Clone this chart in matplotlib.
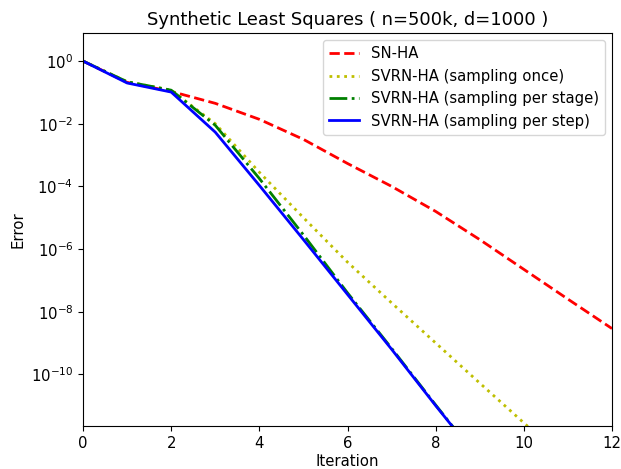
import numpy as np
import matplotlib
matplotlib.use('Agg')
from matplotlib import pyplot as plt

## error per iteration (log10 of error)
iters_sn = [0, 1, 2, 3, 4, 5, 6, 7, 8, 9, 10, 11, 12]
log_sn = [0, -0.68, -0.97, -1.35, -1.86, -2.5, -3.27, -4.0, -4.8, -5.7, -6.65, -7.6, -8.54]

iters_once = [0, 1, 2, 3, 4, 5, 6, 7, 8, 9, 10, 11]
log_once = [0, -0.66, -0.93, -2.0, -3.55, -5.0, -6.42, -7.72, -9.0, -10.28, -11.55, -12.8]

iters_stage = [0, 1, 2, 3, 4, 5, 6, 7, 8, 9]
log_stage = [0, -0.66, -0.93, -2.05, -3.75, -5.55, -7.4, -9.17, -10.98, -12.75]

iters_step = [0, 1, 2, 3, 4, 5, 6, 7, 8, 9]
log_step = [0, -0.7, -0.99, -2.27, -3.97, -5.7, -7.45, -9.2, -11.0, -12.75]

plt.rcParams['font.size'] = 10.7

fig = plt.figure(figsize=(6.21, 4.69), dpi=100)
ax = fig.add_axes([0.1337, 0.0917, 0.8518, 0.8379])

ax.plot(iters_sn, 10.0 ** np.array(log_sn), 'r--', lw=2, label='SN-HA')
ax.plot(iters_once, 10.0 ** np.array(log_once), 'y:', lw=2, label='SVRN-HA (sampling once)')
ax.plot(iters_stage, 10.0 ** np.array(log_stage), 'g-.', lw=2, label='SVRN-HA (sampling per stage)')
ax.plot(iters_step, 10.0 ** np.array(log_step), 'b-', lw=2, label='SVRN-HA (sampling per step)')

ax.set_yscale('log')
ax.set_xlim(0, 12)
ax.set_ylim(10 ** -11.65, 10 ** 0.895)
ax.set_xlabel('Iteration', labelpad=2.5)
ax.set_ylabel('Error')
ax.set_title('Synthetic Least Squares ( n=500k, d=1000 )')
ax.legend(loc='upper right')

fig.savefig('out.png', dpi=100)
